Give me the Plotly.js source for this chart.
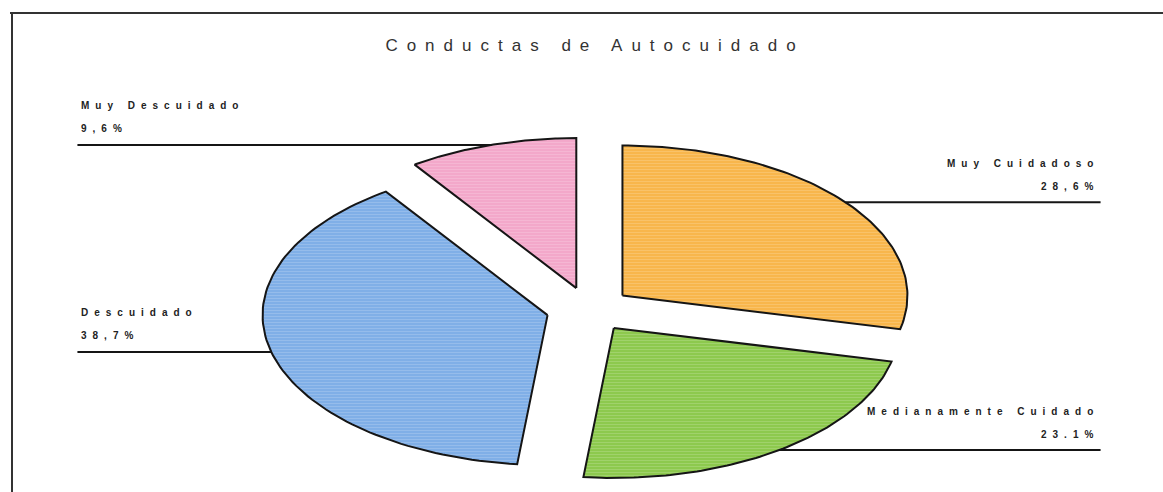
<!DOCTYPE html>
<html>
<head>
<meta charset="utf-8">
<script src="https://cdn.plot.ly/plotly-3.0.1.min.js"></script>
<style>
  html, body { margin: 0; padding: 0; background: #fff; }
  #grafico .annotation-text { letter-spacing: 6px; }
  #grafico .gtitle { letter-spacing: 9px; }
</style>
</head>
<body>
<div id="grafico" style="width:1163px;height:492px;"></div>
<script>
// ─────────────────────────────
// DATOS
// ─────────────────────────────
const categorias = ['Muy Cuidadoso', 'Medianamente Cuidado', 'Descuidado', 'Muy Descuidado'];
const porcentajes = [28.6, 23.1, 38.7, 9.6];
const etiquetas = ['28,6%', '23.1%', '38,7%', '9,6%'];
const colores = ['#F8B64C', '#8DC94E', '#80AFE7', '#F3A8CA'];


// ─────────────────────────────
// GEOMETRÍA (pie separado, en unidades del radio)
// ─────────────────────────────
const SEPARACION = 0.15;
const X_ETIQUETA = 1.795;
const PASOS = 90;
const ESPACIADO = 6;   // letter-spacing de las etiquetas (px), ver <style>
const rad = g => g * Math.PI / 180;

const total = porcentajes.reduce((a, b) => a + b, 0);
let acumulado = 0;

const trazas = [];
const anotaciones = [];

porcentajes.forEach((v, i) => {
  const a0 = 90 - acumulado / total * 360;
  const a1 = a0 - v / total * 360;
  const medio = (a0 + a1) / 2;
  acumulado += v;

  const ox = SEPARACION * Math.cos(rad(medio));
  const oy = SEPARACION * Math.sin(rad(medio));

  const xs = [ox];
  const ys = [oy];
  for (let k = 0; k <= PASOS; k++) {
    const a = rad(a0 + (a1 - a0) * k / PASOS);
    xs.push(ox + Math.cos(a));
    ys.push(oy + Math.sin(a));
  }
  xs.push(ox);
  ys.push(oy);

  trazas.push({
    x: xs, y: ys,
    type: 'scatter', mode: 'lines',
    fill: 'toself',
    fillcolor: colores[i],
    fillpattern: { shape: '-', bgcolor: colores[i], fgcolor: '#ffffff', fgopacity: 0.22, size: 3, solidity: 0.25 },
    line: { color: '#151515', width: 2 },
    hoverinfo: 'skip',
    name: categorias[i]
  });

  // línea guía horizontal
  const ax = ox + Math.cos(rad(medio));
  const ay = oy + Math.sin(rad(medio));
  const derecha = Math.cos(rad(medio)) >= 0;
  const xFin = derecha ? X_ETIQUETA : -X_ETIQUETA;

  trazas.push({
    x: [ax, xFin], y: [ay, ay],
    type: 'scatter', mode: 'lines',
    line: { color: '#151515', width: 2 },
    hoverinfo: 'skip'
  });

  // plotly mide el texto sin letter-spacing: se compensa con xshift
  const desplazar = txt => {
    const extra = ESPACIADO * txt.length / 2;
    return derecha ? -extra : extra + 2;
  };

  const base = {
    x: xFin, y: ay, xref: 'x', yref: 'y',
    showarrow: false,
    xanchor: derecha ? 'right' : 'left',
    yanchor: 'middle',
    font: { family: 'Liberation Sans, Arial, sans-serif', size: 10, color: '#222', weight: 'bold' }
  };
  anotaciones.push({ ...base, text: etiquetas[i], yshift: 16, xshift: desplazar(etiquetas[i]) });
  anotaciones.push({ ...base, text: categorias[i], yshift: 39, xshift: desplazar(categorias[i]) });
});


// ─────────────────────────────
// LAYOUT
// ─────────────────────────────
const W = 1163, H = 492;
const CX = 589, CY = 309.6, RX = 285, RY = 150;

const layout = {
  width: W, height: H,
  margin: { l: 0, r: 0, t: 0, b: 0 },
  paper_bgcolor: '#fff',
  plot_bgcolor: '#fff',
  showlegend: false,
  hovermode: false,
  title: {
    text: 'Conductas de Autocuidado',
    x: 595 / W, xanchor: 'center',
    y: 1 - 45 / H, yanchor: 'middle',
    font: { family: 'Liberation Sans, Arial, sans-serif', size: 17, color: '#333' }
  },
  xaxis: { range: [-CX / RX, (W - CX) / RX], visible: false, fixedrange: true },
  yaxis: { range: [-(H - CY) / RY, CY / RY], visible: false, fixedrange: true },
  shapes: [
    { type: 'line', xref: 'paper', yref: 'paper', x0: 10 / W, x1: 1, y0: 1 - 13 / H, y1: 1 - 13 / H,
      line: { color: '#333', width: 2 } },
    { type: 'line', xref: 'paper', yref: 'paper', x0: 12 / W, x1: 12 / W, y0: 0, y1: 1 - 13 / H,
      line: { color: '#333', width: 2 } }
  ],
  annotations: anotaciones
};

Plotly.newPlot('grafico', trazas, layout, { staticPlot: true, displayModeBar: false });
</script>
</body>
</html>
